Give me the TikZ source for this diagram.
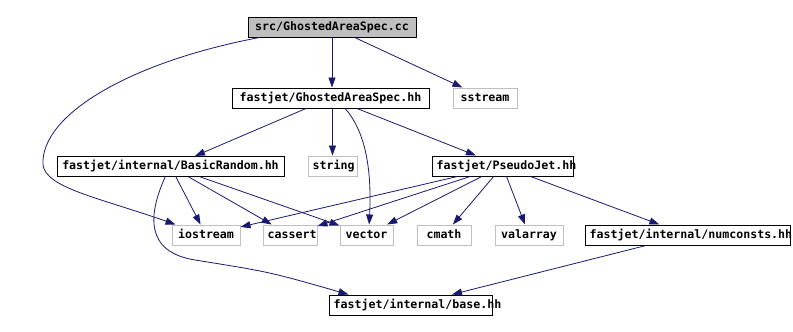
\documentclass[tikz,border=0pt]{standalone}
\usepackage{fontspec}
\setmonofont{DejaVu Sans Mono}
\usetikzlibrary{arrows.meta, positioning}
\definecolor{edgeblue}{RGB}{25,25,112}
\definecolor{sysgray}{RGB}{191,191,191}

\begin{document}
\begin{tikzpicture}[
        x=0.75pt, y=-0.75pt,
        file/.style={rectangle, draw=black, line width=0.75pt,
                     minimum height=15pt, inner xsep=3.5pt, inner ysep=0pt,
                     text height=6.3pt, text depth=1.7pt, align=center,
                     font=\ttfamily\bfseries\fontsize{8.7}{10}\selectfont},
        sysfile/.style={file, draw=sysgray},
        rootfile/.style={file, fill=sysgray},
        dep/.style={-{Triangle[length=7.5pt, width=5.25pt]}, color=edgeblue,
                    line width=0.6pt},
    ]
    \useasboundingbox (0,0) rectangle (793,332);

    % Wurzel
    \node[rootfile, text width=119pt] (src) at (332,27) {src/GhostedAreaSpec.cc};

    % zweite Ebene
    \node[file, text width=140.75pt] (gash) at (330.5,98) {fastjet/GhostedAreaSpec.hh};
    \node[sysfile, text width=41pt] (sstream) at (485,98) {sstream};

    % dritte Ebene
    \node[file, text width=163.25pt] (brand) at (170.5,166.5) {fastjet/internal/BasicRandom.hh};
    \node[sysfile, text width=29.75pt] (string) at (332.5,166) {string};
    \node[file, text width=98.75pt] (pjet) at (502.5,166) {fastjet/PseudoJet.hh};

    % vierte Ebene
    \node[sysfile, text width=44pt] (iostream) at (206,235) {iostream};
    \node[sysfile, text width=33.5pt] (cassert) at (290,235) {cassert};
    \node[sysfile, text width=32.75pt] (vector) at (366.5,235) {vector};
    \node[sysfile, text width=33.5pt] (cmath) at (444,235) {cmath};
    \node[sysfile, text width=44pt] (valarray) at (529,235) {valarray};
    \node[file, text width=146.75pt] (numconsts) at (687.5,235) {fastjet/internal/numconsts.hh};

    % unterste Ebene
    \node[file, text width=115.25pt] (base) at (410.5,305) {fastjet/internal/base.hh};

    % Kanten der Wurzel
    \draw[dep] (src.south) -- (src.south |- gash.north);
    \draw[dep] (src) -- (sstream);
    \draw[dep] ([xshift=9pt]src.south west) .. controls (130,62) and (40,115) .. (43,165)
        .. controls (46,188) and (100,198) .. ([xshift=3pt]iostream.north west);

    % Kanten von GhostedAreaSpec.hh
    \draw[dep] (gash) -- (brand);
    \draw[dep] (string.north |- gash.south) -- (string.north);
    \draw[dep] ([xshift=11pt]gash.south) .. controls (364,130) and (372,165) .. ([xshift=2pt]vector.north);
    \draw[dep] (gash) -- (pjet);

    % Kanten von BasicRandom.hh
    \draw[dep] (brand) -- (iostream);
    \draw[dep] (brand) -- (cassert);
    \draw[dep] (brand) -- (vector);
    \draw[dep] ([xshift=-4pt]brand.south) .. controls (148,215) and (145,252) .. (195,260)
        .. controls (270,272) .. ([xshift=15pt]base.north west);

    % Kanten von PseudoJet.hh
    \draw[dep] (pjet) -- (iostream);
    \draw[dep] (pjet) -- (cassert);
    \draw[dep] (pjet) -- (vector);
    \draw[dep] (pjet) -- (cmath);
    \draw[dep] (pjet) -- (valarray);
    \draw[dep] (pjet) -- (numconsts);

    % numconsts.hh
    \draw[dep] (numconsts) -- (base);

    \end{tikzpicture}
\end{document}
